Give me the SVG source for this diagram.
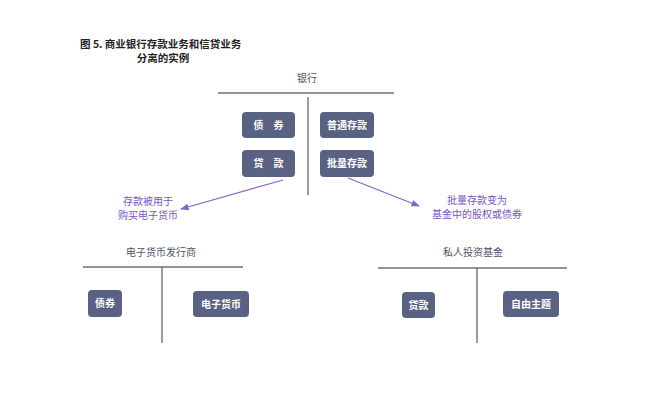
<svg xmlns="http://www.w3.org/2000/svg" width="650" height="402" viewBox="0 0 650 402">
<style>
text{font-family:"Noto Sans CJK SC","Noto Sans",sans-serif;}
.title{font-size:10.5px;font-weight:bold;fill:#222;}
.lbl{font-size:10px;fill:#4d5266;text-anchor:middle;}
.box rect{fill:#5a6284;}
.box text{font-size:10px;font-weight:bold;fill:#fff;text-anchor:middle;}
.ln{stroke:#6d717c;stroke-width:1.4;fill:none;}
.arr{stroke:#8464c4;stroke-width:1.2;fill:none;marker-end:url(#ah);}
.note{font-size:10px;fill:#7a55c0;text-anchor:middle;}
</style>
<defs>
<marker id="ah" viewBox="0 0 10 10" refX="9" refY="5" markerWidth="7" markerHeight="7" orient="auto-start-reverse">
<path d="M0,1 L10,5 L0,9 z" fill="#8464c4"/>
</marker>
</defs>
<rect width="650" height="402" fill="#fff"/>
<g id="title">
<text class="title" x="80" y="47.5">图 5. 商业银行存款业务和信贷业务</text>
<text class="title" x="163" y="62" text-anchor="middle">分离的实例</text>
</g>
<g id="bank">
<text class="lbl" x="307" y="82">银行</text>
<line class="ln" x1="218" y1="93" x2="394" y2="93"/>
<line class="ln" x1="308" y1="97" x2="308" y2="195"/>
</g>
<g id="bank-bonds" class="box"><rect x="242" y="112" width="53" height="26" rx="4"/><text x="268.5" y="129">债　券</text></g>
<g id="bank-loans" class="box"><rect x="242" y="150" width="53" height="27" rx="4"/><text x="268.5" y="167">贷　款</text></g>
<g id="bank-deposits" class="box"><rect x="320" y="112" width="54" height="26" rx="4"/><text x="347" y="129">普通存款</text></g>
<g id="bank-wholesale" class="box"><rect x="320" y="150" width="54" height="27" rx="4"/><text x="347" y="167">批量存款</text></g>
<g id="issuer">
<text class="lbl" x="161" y="256">电子货币发行商</text>
<line class="ln" x1="83" y1="267" x2="243" y2="267"/>
<line class="ln" x1="162" y1="267" x2="162" y2="343"/>
</g>
<g id="issuer-bonds" class="box"><rect x="88" y="290" width="34" height="27" rx="4"/><text x="105" y="307">债券</text></g>
<g id="issuer-emoney" class="box"><rect x="193" y="291" width="56" height="26" rx="4"/><text x="221" y="307.5">电子货币</text></g>
<g id="fund">
<text class="lbl" x="473" y="256">私人投资基金</text>
<line class="ln" x1="378" y1="268" x2="567" y2="268"/>
<line class="ln" x1="477" y1="268" x2="477" y2="343"/>
</g>
<g id="fund-loans" class="box"><rect x="402" y="292" width="33" height="26" rx="4"/><text x="418.5" y="308.5">贷款</text></g>
<g id="fund-free" class="box"><rect x="503" y="291" width="56" height="26" rx="4"/><text x="531" y="307.5">自由主题</text></g>
<g id="connectors">
<line class="arr" x1="283" y1="180" x2="181" y2="209"/>
<line class="arr" x1="348" y1="178" x2="419" y2="206"/>
</g>
<g id="notes">
<text class="note" x="148" y="205">存款被用于</text>
<text class="note" x="148" y="219">购买电子货币</text>
<text class="note" x="477" y="204">批量存款变为</text>
<text class="note" x="477" y="218">基金中的股权或债券</text>
</g>
</svg>
